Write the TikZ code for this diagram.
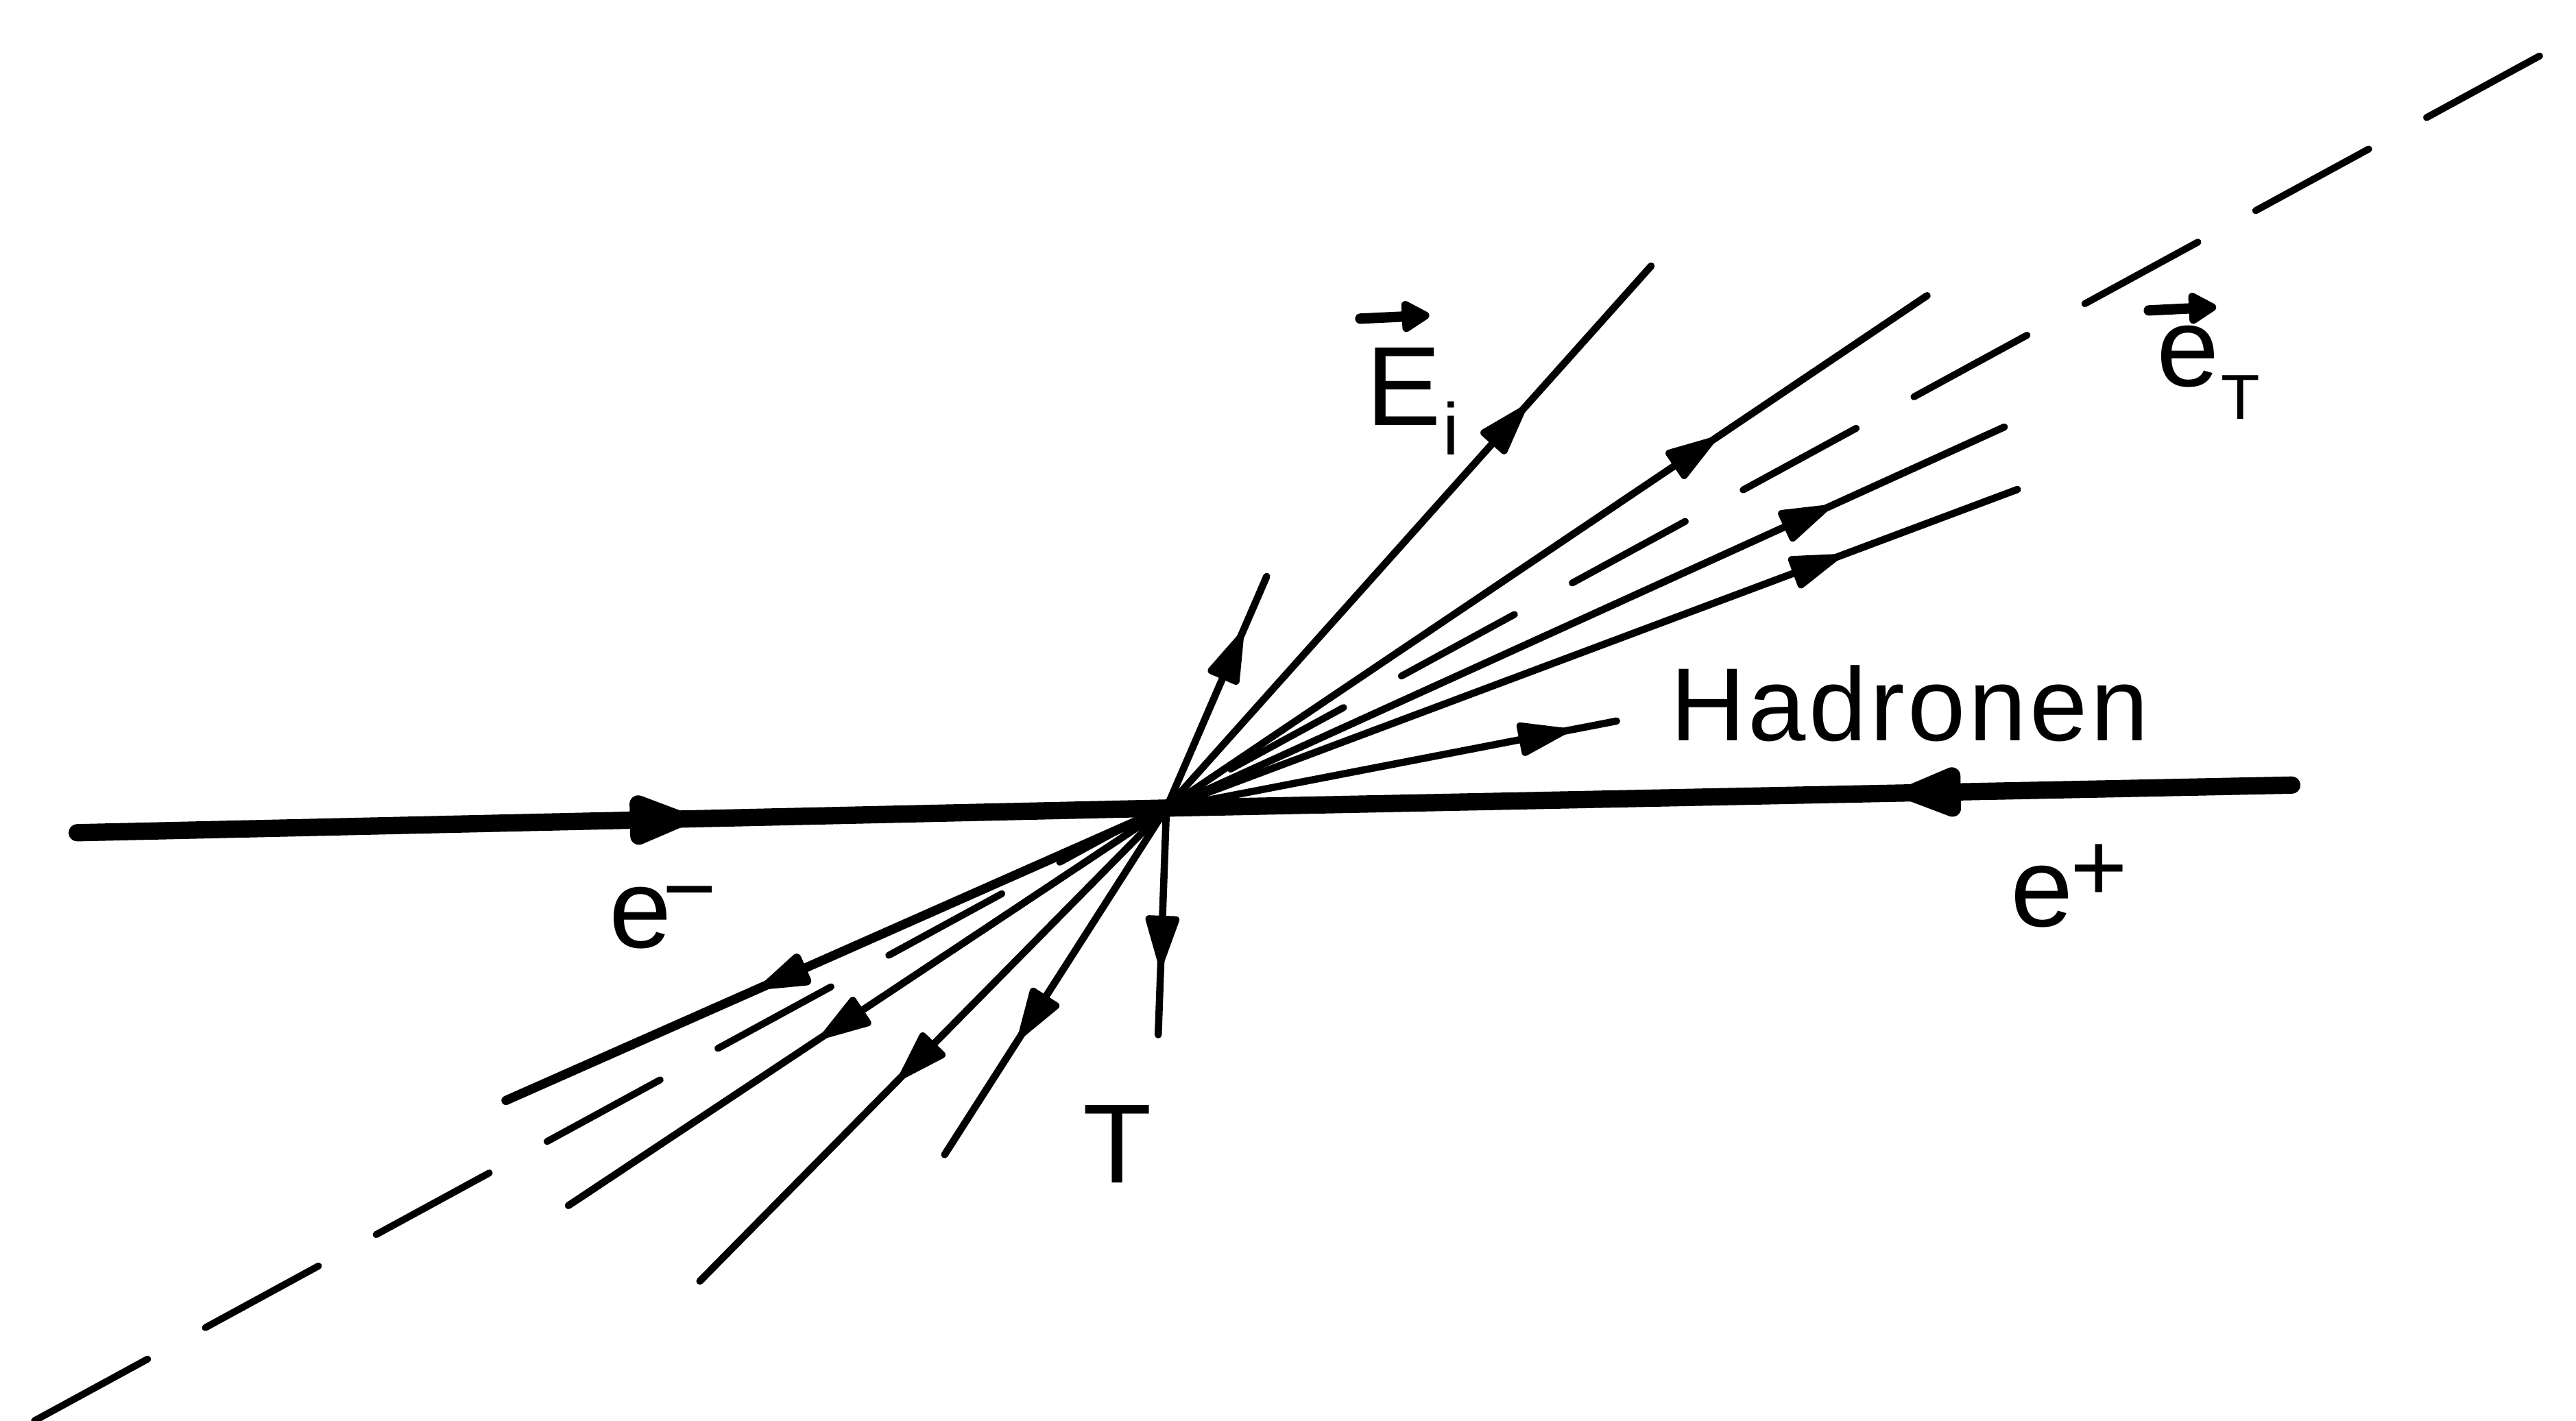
\documentclass[tikz,border=0pt]{standalone}
\usepackage{fontspec}
\setmainfont{Liberation Sans}
\usetikzlibrary{arrows.meta,decorations.markings}
\tikzset{
  beam/.style={line width=3pt, line cap=round},
  track/.style={line width=1.25pt, line cap=round},
  fattrack/.style={line width=1.6pt, line cap=round},
  axisline/.style={line width=1.2pt, line cap=round, dash pattern=on 22.3pt off 11.4pt},
  bmark/.style={postaction={decorate}, decoration={markings,
      mark=at position #1 with {\arrow{Stealth[inset=0pt,length=13pt,width=9pt,round]}}}},
  tmark/.style={postaction={decorate}, decoration={markings,
      mark=at position #1 with {\arrow{Stealth[inset=0pt,length=10pt,width=6pt,round]}}}},
  lab/.style={inner sep=0pt, font=\fontsize{19.5}{23}\selectfont},
  vecarrow/.style={line width=1.8pt, line cap=round, -{Stealth[inset=0pt,length=5.5pt,width=6pt,round]}},
}
\begin{document}
\begin{tikzpicture}[x=0.1mm, y=-0.1mm]
\useasboundingbox (0,0) rectangle (1568,865);

% vertex and end points
\coordinate (V) at (710,492);
\coordinate (em) at (47,507);
\coordinate (ep) at (1395,478);
\coordinate (D1) at (21,865);
\coordinate (D2) at (1568,22);
\coordinate (t1) at (771,351);
\coordinate (t2) at (1005,162);
\coordinate (t3) at (1173,180);
\coordinate (t4) at (1220,260);
\coordinate (t5) at (1228,298);
\coordinate (t6) at (984,439);
\coordinate (t7) at (308,670);
\coordinate (t8) at (346,734);
\coordinate (t9) at (426,780);
\coordinate (t10) at (575,703);
\coordinate (t11) at (705,630);

% thrust axis (dashed)
\draw[axisline] (D1) -- (D2);

% beams
\draw[beam, bmark=0.56] (em) -- (V);
\draw[beam, bmark=0.345] (ep) -- (V);

% hadron tracks
\draw[track, tmark=0.75] (V) -- (t1);
\draw[track, tmark=0.74] (V) -- (t2);
\draw[track, tmark=0.72] (V) -- (t3);
\draw[track, tmark=0.79] (V) -- (t4);
\draw[track, tmark=0.79] (V) -- (t5);
\draw[track, tmark=0.89] (V) -- (t6);
\draw[fattrack, tmark=0.61] (V) -- (t7);
\draw[track, tmark=0.575] (V) -- (t8);
\draw[track, tmark=0.57] (V) -- (t9);
\draw[track, tmark=0.66] (V) -- (t10);
\draw[track, tmark=0.69] (V) -- (t11);

% labels
\node[lab, anchor=base west] (lem) at (370,577) {e\kern-1.5pt\raisebox{4.7pt}{\fontsize{16}{16}\selectfont −}};
\node[lab, anchor=base west] (lep) at (1223,564) {e\kern-0.5pt\raisebox{4.4pt}{\fontsize{17}{17}\selectfont +}};
\node[lab, anchor=base west, font=\fontsize{18}{22}\selectfont\addfontfeatures{LetterSpace=3}] (lhad) at (1016,451) {Hadronen};
\node[lab, anchor=base] (lT) at (680,720) {T};
\node[lab, anchor=base west] (lE) at (831,259) {E\kern0.3pt\raisebox{-5.1pt}{\fontsize{12.7}{14}\selectfont i}};
\node[lab, anchor=base west] (leT) at (1312,235) {e\kern0.3pt\raisebox{-5.7pt}{\fontsize{11}{13}\selectfont T}};

% vector arrows over E and e
\coordinate (vE1) at (828,194);
\coordinate (vE2) at (870,192);
\coordinate (vT1) at (1308,189);
\coordinate (vT2) at (1349,187);
\draw[vecarrow] (vE1) -- (vE2);
\draw[vecarrow] (vT1) -- (vT2);
\end{tikzpicture}
\end{document}
